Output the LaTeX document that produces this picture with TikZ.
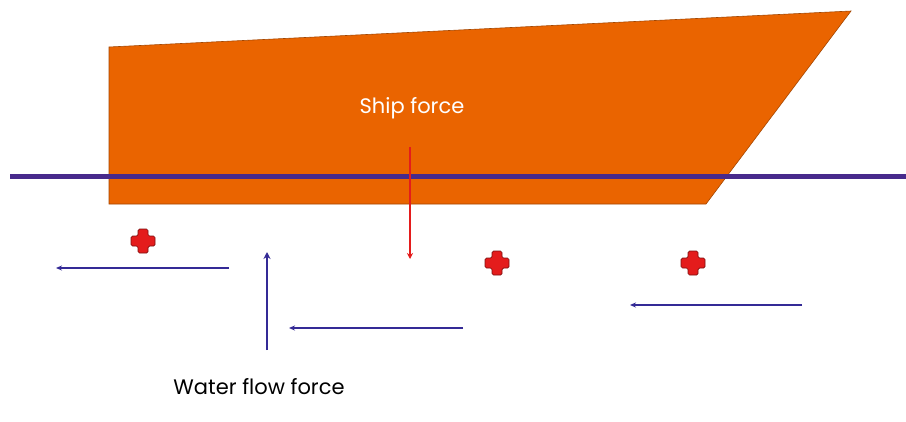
\documentclass[tikz,border=0pt]{standalone}
\usepackage{fontspec}
\setmainfont{Poppins}
\usetikzlibrary{arrows.meta}
\definecolor{hullorange}{RGB}{234,100,0}
\definecolor{waterline}{RGB}{72,42,140}
\definecolor{flowblue}{RGB}{52,42,150}
\definecolor{forcered}{RGB}{228,28,28}
\tikzset{
  flow/.style={draw=flowblue, line width=1.3pt, -{Stealth[length=6pt,width=5pt]}},
  upflow/.style={draw=flowblue, line width=2.6pt, -{Stealth[length=7pt,width=7pt]}},
  shipforce/.style={draw=forcered, line width=1.6pt, -{Stealth[length=6pt,width=6pt]}},
  label/.style={font=\fontsize{21}{24}\selectfont, inner sep=0pt},
  pile/.style={fill=forcered, draw=forcered!55!black, line width=0.7pt, rounded corners=1.5pt}
}
\newcommand{\pilemark}[1]{%
  \draw[pile] (#1) ++(-5,-12) -- ++(10,0) -- ++(0,7) -- ++(7,0) -- ++(0,10) -- ++(-7,0)
    -- ++(0,7) -- ++(-10,0) -- ++(0,-7) -- ++(-7,0) -- ++(0,-10) -- ++(7,0) -- cycle;}
\begin{document}
\begin{tikzpicture}[x=1pt,y=-1pt]
\useasboundingbox[fill=white] (0,0) rectangle (906,421);
% Drawing the hull
\filldraw[fill=hullorange, draw=hullorange!70!black, line width=0.6pt]
  (109,47) -- (851,11) -- (706,204) -- (109,204) -- cycle;
% Water line
\coordinate (wl west) at (10,176);
\coordinate (wl east) at (906,176);
\draw[waterline, line width=5pt] (wl west) -- (wl east);
% Ship force
\node[label, text=white] (ship) at (412,108) {Ship force};
\coordinate (sf top) at (410,147);
\coordinate (sf tip) at (410,259);
\draw[shipforce] (sf top) -- (sf tip);
% Piles
\coordinate (pile a) at (143,241);
\coordinate (pile b) at (497,263);
\coordinate (pile c) at (693,263);
\pilemark{pile a}
\pilemark{pile b}
\pilemark{pile c}
% Water flow arrows
\coordinate (fa start) at (229,268);
\coordinate (fa end) at (56,268);
\coordinate (fb start) at (463,328);
\coordinate (fb end) at (289,328);
\coordinate (fc start) at (802,305);
\coordinate (fc end) at (630,305);
\coordinate (up start) at (267,350);
\coordinate (up end) at (267,252);
\draw[flow] (fa start) -- (fa end);
\draw[flow] (fb start) -- (fb end);
\draw[flow] (fc start) -- (fc end);
\draw[upflow] (up start) -- (up end);
% Label
\node[label, text=black] (water) at (259,387) {Water flow force};
\end{tikzpicture}
\end{document}
